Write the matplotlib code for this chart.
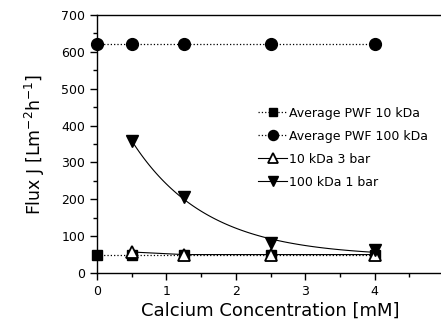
# Flux vs calcium concentration

import numpy as np
import matplotlib.pyplot as plt
import matplotlib.lines as mlines

plt.rcParams['font.family'] = ['DejaVu Sans']

# средние значения PWF
x_pwf = [0, 0.5, 1.25, 2.5, 4]
pwf_10 = [48, 48, 48, 48, 48]
pwf_100 = [620, 620, 620, 620, 620]

# эксперименты
x_exp = [0.5, 1.25, 2.5, 4]
flux_10_3bar = [57, 50, 50, 50]
flux_100_1bar = [357, 207, 82, 62]

# экспоненциальная аппроксимация y = c + A*exp(-k*x) (подбор по сетке k)
xe = np.array(x_exp)
ye = np.array(flux_100_1bar)
best = None
for k in np.linspace(0.1, 3, 300):
    M = np.column_stack([np.ones_like(xe), np.exp(-k * xe)])
    coef, res, _, _ = np.linalg.lstsq(M, ye, rcond=None)
    err = np.sum((M @ coef - ye) ** 2)
    if best is None or err < best[0]:
        best = (err, k, coef)
_, k, (c, A) = best
xf = np.linspace(0.5, 4, 100)
yf = c + A * np.exp(-k * xf)

fig = plt.figure(figsize=(4.41, 3.27), dpi=100)
ax = fig.add_axes([97 / 441, 54 / 327, 347 / 441, 258 / 327])

ax.plot(x_pwf, pwf_10, 'k:', marker='s', ms=7.5, lw=0.9, label='Average PWF 10 kDa', clip_on=False, zorder=3)
ax.plot(x_pwf, pwf_100, 'k:', marker='o', ms=8.5, lw=0.9, label='Average PWF 100 kDa', clip_on=False, zorder=3)
ax.plot(x_exp, flux_10_3bar, 'k-', marker='^', ms=8.5, mfc='white', mew=1.3, lw=0.8,
        label='10 kDa 3 bar', zorder=4)
ax.plot(xf, yf, 'k-', lw=0.8)
ax.plot(x_exp, flux_100_1bar, 'kv', ms=8.5, zorder=4)

ax.set_xlim(0, 5)
ax.set_ylim(0, 700)
ax.set_xticks([0, 1, 2, 3, 4, 5])
ax.set_yticks(range(0, 701, 100))
ax.set_xticks(np.arange(0, 5.01, 0.5), minor=True)
ax.set_yticks(range(0, 701, 50), minor=True)
ax.tick_params(direction='out', length=5, width=1, labelsize=9, top=False, right=False)
ax.tick_params(which='minor', direction='out', length=3, width=1)
for s in ax.spines.values():
    s.set_linewidth(1)

ax.set_xlabel('Calcium Concentration [mM]', fontsize=13, labelpad=3)
ax.set_ylabel('Flux J [Lm$^{-2}$h$^{-1}$]', fontsize=12.5, labelpad=10)

h, l = ax.get_legend_handles_labels()
h.append(mlines.Line2D([], [], color='k', marker='v', ms=8.5, lw=0.8))
l.append('100 kDa 1 bar')
ax.legend(h, l, loc='center left', bbox_to_anchor=(0.432, 0.486), frameon=False, fontsize=9,
          handlelength=2.3, handletextpad=0.2, labelspacing=0.8, markerscale=0.85)

fig.savefig('out.png', dpi=100)
